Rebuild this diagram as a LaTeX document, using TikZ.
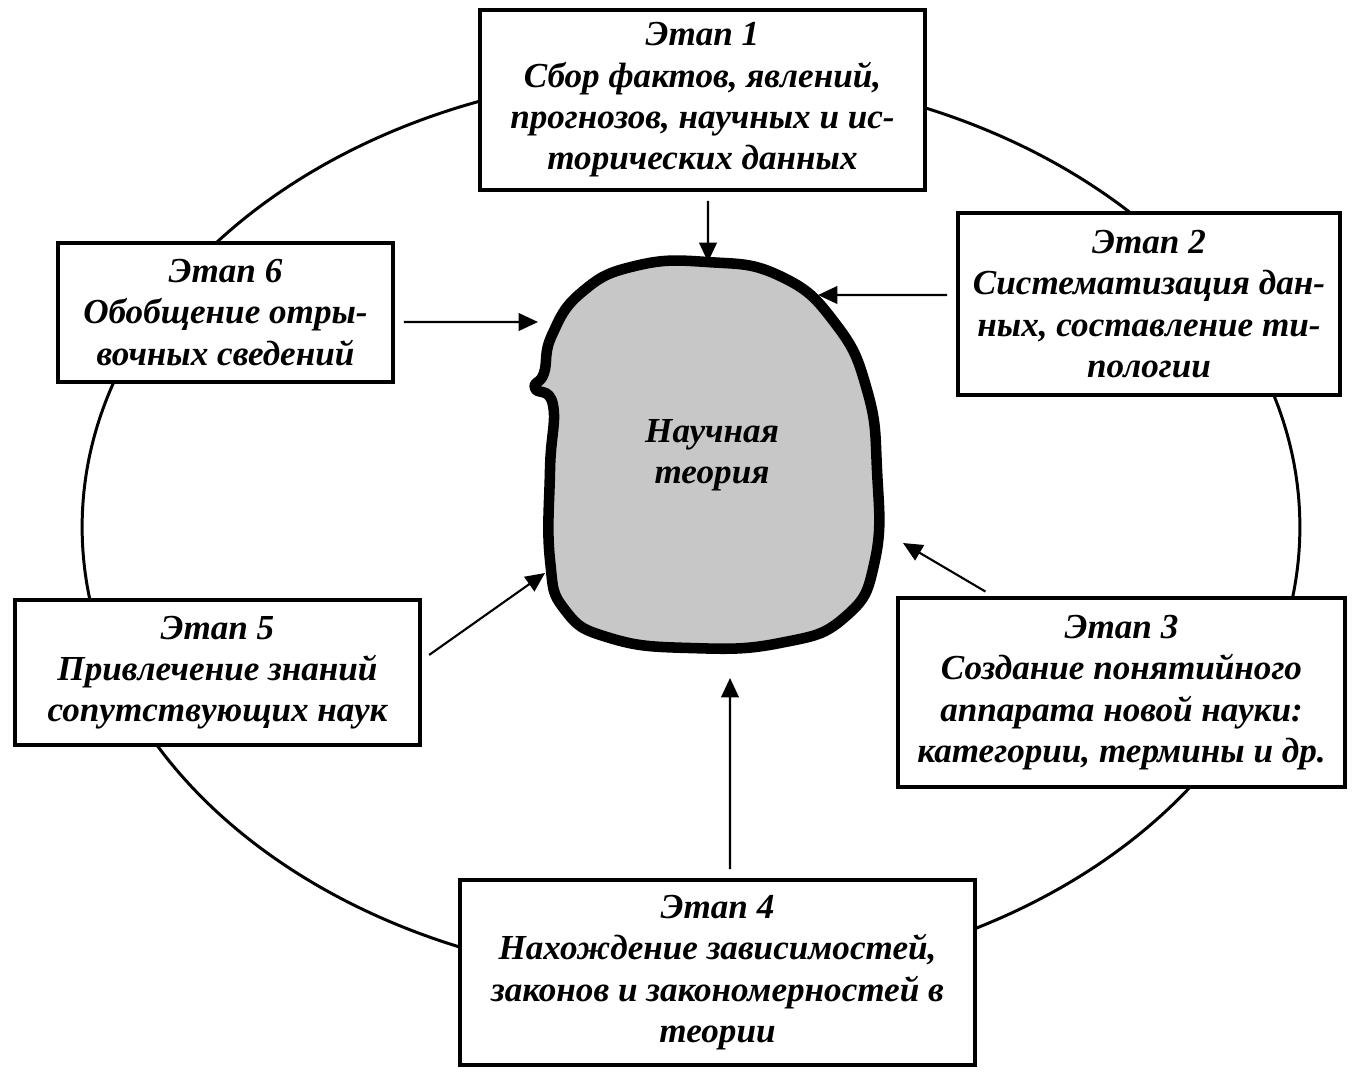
\documentclass[tikz,border=0pt]{standalone}
\usepackage{fontspec}
\setmainfont{Liberation Serif}
\usetikzlibrary{arrows.meta}
\tikzstyle{stagebox}=[rectangle,draw=black,fill=white,line width=2.3pt,
                      align=center,inner sep=0pt,
                      font=\fontsize{20}{23.5}\selectfont\bfseries\itshape]
\tikzstyle{feed}=[draw=black,line width=1.2pt,shorten <=5pt,
                  -{Triangle[length=11pt,width=10pt]}]
\begin{document}
\begin{tikzpicture}[x=0.02cm,y=-0.02cm]
    \useasboundingbox (0,0) rectangle (1362,1086);
    \draw[line width=1.7pt] (691,527) ellipse [x radius=12.18cm, y radius=9.08cm];
    \filldraw[fill=black!22,draw=black,line width=6pt,line join=round]
      plot[smooth cycle,tension=0.8] coordinates {(707,262) (780,276) (835,323)
        (867,390) (877,470) (875,560) (845,617) (780,643) (690,648) (610,638)
        (565,610) (550,560) (550,470) (553,405) (535,388) (544,373) (552,335)
        (582,292) (635,266)};
    \node (theory) at (712,455) [font=\fontsize{20}{23.5}\selectfont\bfseries\itshape,
      align=center,inner sep=0pt]{Научная\\теория};
    \node (box1) at (702.5,100) [stagebox,minimum width=8.9cm,minimum height=3.6cm]
      {Этап 1\\Сбор фактов, явлений,\\прогнозов, научных и ис-\\торических данных};
    \node (box2) at (1149,304) [stagebox,minimum width=7.64cm,minimum height=3.64cm]
      {Этап 2\\Систематизация дан-\\ных, составление ти-\\пологии};
    \node (box3) at (1121.5,692.5) [stagebox,minimum width=8.94cm,minimum height=3.78cm]
      {Этап 3\\Создание понятийного\\аппарата новой науки:\\категории, термины и др.};
    \node (box4) at (717.5,972.5) [stagebox,minimum width=10.3cm,minimum height=3.7cm]
      {Этап 4\\Нахождение зависимостей,\\законов и закономерностей в\\теории};
    \node (box5) at (217.5,672.5) [stagebox,minimum width=8.1cm,minimum height=2.9cm]
      {Этап 5\\Привлечение знаний\\сопутствующих наук};
    \node (box6) at (225.5,312.5) [stagebox,minimum width=6.7cm,minimum height=2.78cm]
      {Этап 6\\Обобщение отры-\\вочных сведений};
    \coordinate (in1) at (708,262);
    \coordinate (in2) at (818,295);
    \coordinate (in3) at (903,543);
    \coordinate (in4) at (730,678);
    \coordinate (in5) at (545,573);
    \coordinate (in6) at (538,322);
    \draw[feed] ([xshift=0.11cm]box1.south) -- (in1);
    \draw[feed] ([yshift=0.18cm]box2.west) -- (in2);
    \draw[feed] ([xshift=1.94cm]box3.north west) -- (in3);
    \draw[feed] ([xshift=0.25cm]box4.north) -- (in4);
    \draw[feed] ([yshift=0.25cm]box5.east) -- (in5);
    \draw[feed] ([yshift=-0.19cm]box6.east) -- (in6);
  \end{tikzpicture}
\end{document}
